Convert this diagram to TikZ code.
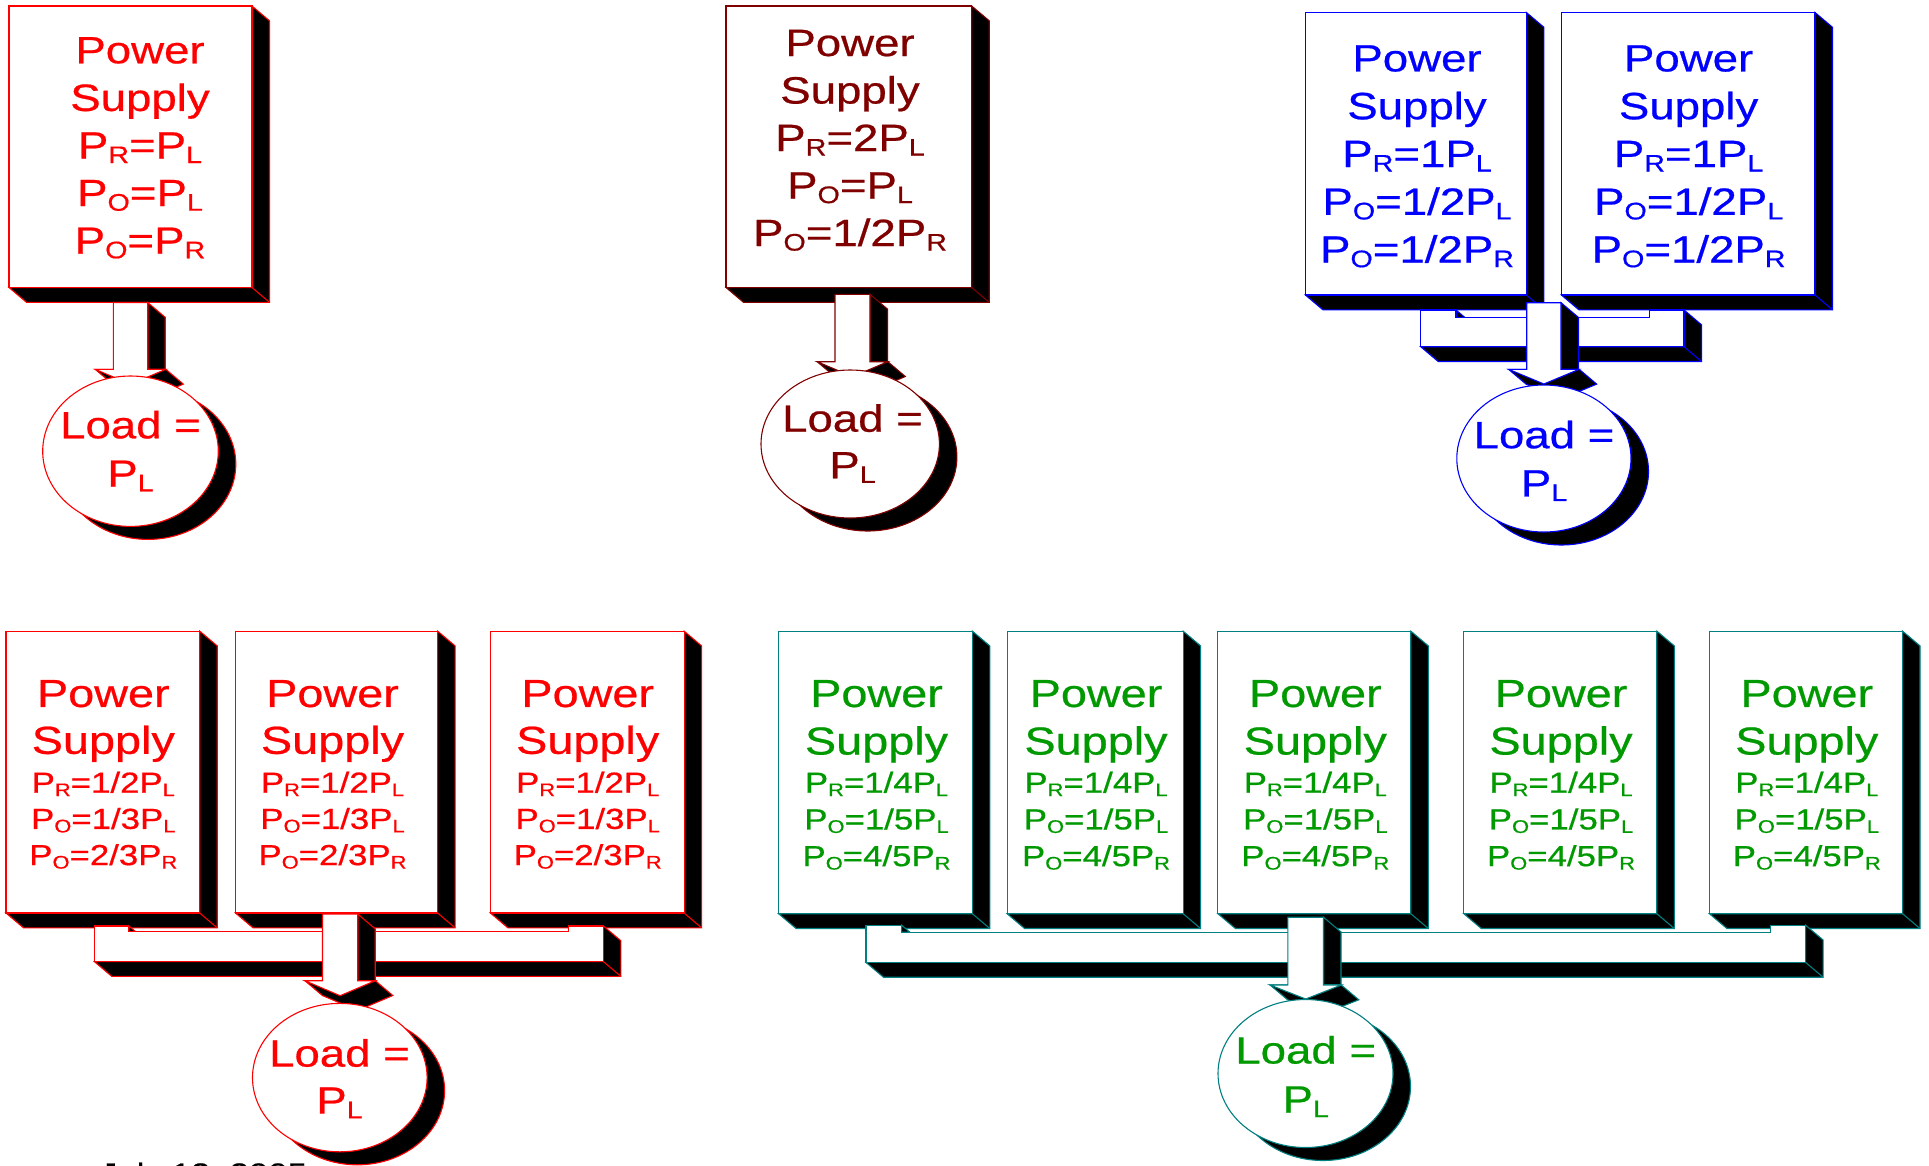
\documentclass[tikz,border=0pt]{standalone}
\usepackage{fontspec}
\setmainfont{Liberation Sans}[FakeStretch=1.2, FakeBold=0.6]
\usepackage{graphicx}
\usetikzlibrary{shapes.geometric}

\definecolor{psred}{RGB}{255,0,0}
\definecolor{psmaroon}{RGB}{128,0,0}
\definecolor{psblue}{RGB}{0,0,255}
\definecolor{psgreen}{RGB}{0,153,0}
\definecolor{psteal}{RGB}{0,128,128}

% reduced, lowered letter used as the index of P
\newcommand\lo[1]{\raisebox{-0.12em}{\scalebox{0.63}{#1}}}

% depth of the extruded (3D) faces
\def\ddx{17.5}
\def\ddy{14.8}

\tikzset{
  outline/.style={line width=1.1pt, line join=miter},
  txt/.style={inner sep=0pt, outer sep=0pt, anchor=base},
  bigtxt/.style={txt, font=\fontsize{38}{45}\selectfont},
  headtxt/.style={txt, font=\fontsize{39}{46}\selectfont},
  smalltxt/.style={txt, font=\fontsize{29}{35}\selectfont},
}

% \psslab{name}{colour}{left}{top}{right}{bottom}: white front face with dark extrusion
\newcommand\psslab[6]{%
  \filldraw[outline, draw=#2, fill=black]
    (#5,#4) -- ({#5+\ddx},{#4+\ddy}) -- ({#5+\ddx},{#6+\ddy}) -- ({#3+\ddx},{#6+\ddy})
    -- (#3,#6) -- (#5,#6) -- cycle;
  \draw[outline, draw=#2] (#5,#6) -- ({#5+\ddx},{#6+\ddy});
  \node[outline, draw=#2, fill=white, inner sep=0pt, outer sep=0pt, anchor=north west,
        minimum width={#5-#3}, minimum height={#6-#4}] (#1) at (#3,#4) {};
}

% \psstack{name}{style}{x}{first baseline}{pitch}{lines}: centred lines of text
\newcommand\psstack[6]{%
  \foreach \ltext [count=\kk] in {#6}
    \node[#2] (#1-\kk) at (#3,{#4+(\kk-1)*#5}) {\ltext};
}

% \psarrow{name}{colour}{shaft left}{shaft right}{top}{head line}{head half width}{head depth}
\newcommand\psarrow[8]{%
  \filldraw[outline, draw=#2, fill=black]
    (#4,#5) -- ({#4+\ddx},{#5+\ddy}) -- ({#4+\ddx},#6) -- (#4,#6) -- cycle;
  \filldraw[outline, draw=#2, fill=black]
    ({(#3+#4)/2-#7},#6) -- ({(#3+#4)/2+#7},#6) -- ({(#3+#4)/2+#7+\ddx},{#6+\ddy})
    -- ({(#3+#4)/2+\ddx},{#6+#8+\ddy}) -- ({(#3+#4)/2-#7+\ddx},{#6+\ddy}) -- cycle;
  \filldraw[outline, draw=#2, fill=white]
    (#3,#5) -- (#3,#6) -- ({(#3+#4)/2-#7},#6) -- ({(#3+#4)/2},{#6+#8})
    -- ({(#3+#4)/2+#7},#6) -- (#4,#6) -- (#4,#5) -- cycle;
  \coordinate (#1) at ({(#3+#4)/2},{#6+#8});
}

% \pspipe{name}{colour}{outer left}{left inner}{right inner}{outer right}{top}{bar top}{bar bottom}
\newcommand\pspipe[9]{%
  \filldraw[outline, draw=#2, fill=black]
    (#6,#7) -- ({#6+\ddx},{#7+\ddy}) -- ({#6+\ddx},{#9+\ddy}) -- ({#3+\ddx},{#9+\ddy})
    -- (#3,#9) -- (#6,#9) -- cycle;
  \draw[outline, draw=#2] (#6,#9) -- ({#6+\ddx},{#9+\ddy});
  \filldraw[outline, draw=#2, fill=black]
    (#4,#7) -- ({#4+\ddx*(#8-#7)/\ddy},#8) -- (#4,#8) -- cycle;
  \filldraw[outline, draw=#2, fill=white]
    (#3,#7) -- (#3,#9) -- (#6,#9) -- (#6,#7) -- (#5,#7) -- (#5,#8) -- (#4,#8) -- (#4,#7) -- cycle;
  \coordinate (#1) at ({(#3+#6)/2},#9);
}

% \psload{name}{colour}{cx}{cy}{rx}{ry}: load ellipse with its shadow
\newcommand\psload[6]{%
  \node[ellipse, outline, draw=#2, fill=black, inner sep=0pt,
        minimum width={2*#5}, minimum height={2*#6}] (#1-shade) at ({#3+17.5},{#4+13}) {};
  \node[ellipse, outline, draw=#2, fill=white, inner sep=0pt,
        minimum width={2*#5}, minimum height={2*#6}] (#1) at (#3,#4) {};
}

\begin{document}
\begin{tikzpicture}[x=1pt, y=-1pt]
  \useasboundingbox (0,0) rectangle (1929,1165);
  \fill[white] (0,0) rectangle (1929,1165);
  \clip (0,0) rectangle (1929,1165);

  % ---- one supply, PR = PL ----
  \psslab{psA}{psred}{9}{6}{252}{287.5}
  \psstack{psA-t}{bigtxt, text=psred}{140}{63.3}{47.6}
    {{Power},{Supply},{P\lo{R}=P\lo{L}},{P\lo{O}=P\lo{L}},{P\lo{O}=P\lo{R}}}
  \psarrow{arA}{psred}{113.3}{147.7}{302.5}{369.3}{35.3}{15}
  \psload{ldA}{psred}{130.5}{451.2}{87.8}{75.2}
  \psstack{ldA-t}{bigtxt, text=psred}{130.5}{438.3}{48.4}{{Load =},{P\lo{L}}}

  % ---- one supply, PR = 2PL ----
  \psslab{psB}{psmaroon}{726}{6}{971.7}{287.5}
  \psstack{psB-t}{bigtxt, text=psmaroon}{850}{56}{47.5}
    {{Power},{Supply},{P\lo{R}=2P\lo{L}},{P\lo{O}=P\lo{L}},{P\lo{O}=1/2P\lo{R}}}
  \psarrow{arB}{psmaroon}{835}{870}{294.3}{361.7}{35.3}{15}
  \psload{ldB}{psmaroon}{850.2}{444}{89.2}{74}
  \psstack{ldB-t}{bigtxt, text=psmaroon}{852.5}{431.7}{46.6}{{Load =},{P\lo{L}}}

  % ---- two supplies in parallel ----
  \psslab{psC1}{psblue}{1305.4}{12.5}{1526.4}{295}
  \psslab{psC2}{psblue}{1561.4}{12.5}{1815}{295}
  \psstack{psC1-t}{bigtxt, text=psblue}{1417}{71.4}{47.8}
    {{Power},{Supply},{P\lo{R}=1P\lo{L}},{P\lo{O}=1/2P\lo{L}},{P\lo{O}=1/2P\lo{R}}}
  \psstack{psC2-t}{bigtxt, text=psblue}{1688.6}{71.4}{47.8}
    {{Power},{Supply},{P\lo{R}=1P\lo{L}},{P\lo{O}=1/2P\lo{L}},{P\lo{O}=1/2P\lo{R}}}
  \pspipe{pipeC}{psblue}{1420.7}{1456}{1649.3}{1684}{310}{317.3}{346.7}
  \psarrow{arC}{psblue}{1526.7}{1561}{302.7}{369.3}{35.3}{14.7}
  \psload{ldC}{psblue}{1543.9}{458.5}{87.1}{73.5}
  \psstack{ldC-t}{bigtxt, text=psblue}{1544}{448.2}{48.2}{{Load =},{P\lo{L}}}

  % ---- three supplies in parallel ----
  \psslab{psD1}{psred}{6}{631.1}{199.7}{913}
  \psslab{psD2}{psred}{235.5}{631.1}{437.6}{913}
  \psslab{psD3}{psred}{490.4}{631.1}{684.1}{913}
  \foreach \nm/\cx in {psD1/103.3, psD2/332.5, psD3/587.7} {
    \psstack{\nm-h}{headtxt, text=psred}{\cx}{706.9}{46.9}{{Power},{Supply}}
    \psstack{\nm-f}{smalltxt, text=psred}{\cx}{792.7}{36.2}
      {{P\lo{R}=1/2P\lo{L}},{P\lo{O}=1/3P\lo{L}},{P\lo{O}=2/3P\lo{R}}}
  }
  \pspipe{pipeD}{psred}{94.4}{128.9}{568.2}{603.4}{926}{931.8}{961.6}
  \psarrow{arD}{psred}{322.5}{357.7}{914}{980.7}{35.2}{15}
  \psload{ldD}{psred}{339.8}{1077.6}{87.3}{74.2}
  \psstack{ldD-t}{bigtxt, text=psred}{339.5}{1066.6}{47}{{Load =},{P\lo{L}}}

  % ---- five supplies in parallel ----
  \psslab{psE1}{psteal}{778.6}{631.1}{972.3}{913.7}
  \psslab{psE2}{psteal}{1007.1}{631.1}{1183.1}{913.7}
  \psslab{psE3}{psteal}{1217.9}{631.1}{1410.8}{913.7}
  \psslab{psE4}{psteal}{1463.8}{631.1}{1656.8}{913.7}
  \psslab{psE5}{psteal}{1709.4}{631.1}{1902.5}{913.7}
  \foreach \nm/\cx in {psE1/876.5, psE2/1096, psE3/1315.3, psE4/1561, psE5/1806.8} {
    \psstack{\nm-h}{headtxt, text=psgreen}{\cx}{706.9}{47.6}{{Power},{Supply}}
    \psstack{\nm-f}{smalltxt, text=psgreen}{\cx}{792.7}{36.7}
      {{P\lo{R}=1/4P\lo{L}},{P\lo{O}=1/5P\lo{L}},{P\lo{O}=4/5P\lo{R}}}
  }
  \pspipe{pipeE}{psteal}{866}{901.6}{1770.7}{1805.6}{925.2}{932.1}{962.4}
  \psarrow{arE}{psteal}{1287.9}{1323.5}{917.2}{985}{35.6}{14}
  \psload{ldE}{psteal}{1305.5}{1073.5}{87.5}{74}
  \psstack{ldE-t}{bigtxt, text=psgreen}{1305.7}{1063.5}{49}{{Load =},{P\lo{L}}}

  % footer date, running off the lower edge
  \node[smalltxt, anchor=base west, text=black] (date) at (100,1183.5) {July 12, 2005};
\end{tikzpicture}
\end{document}
